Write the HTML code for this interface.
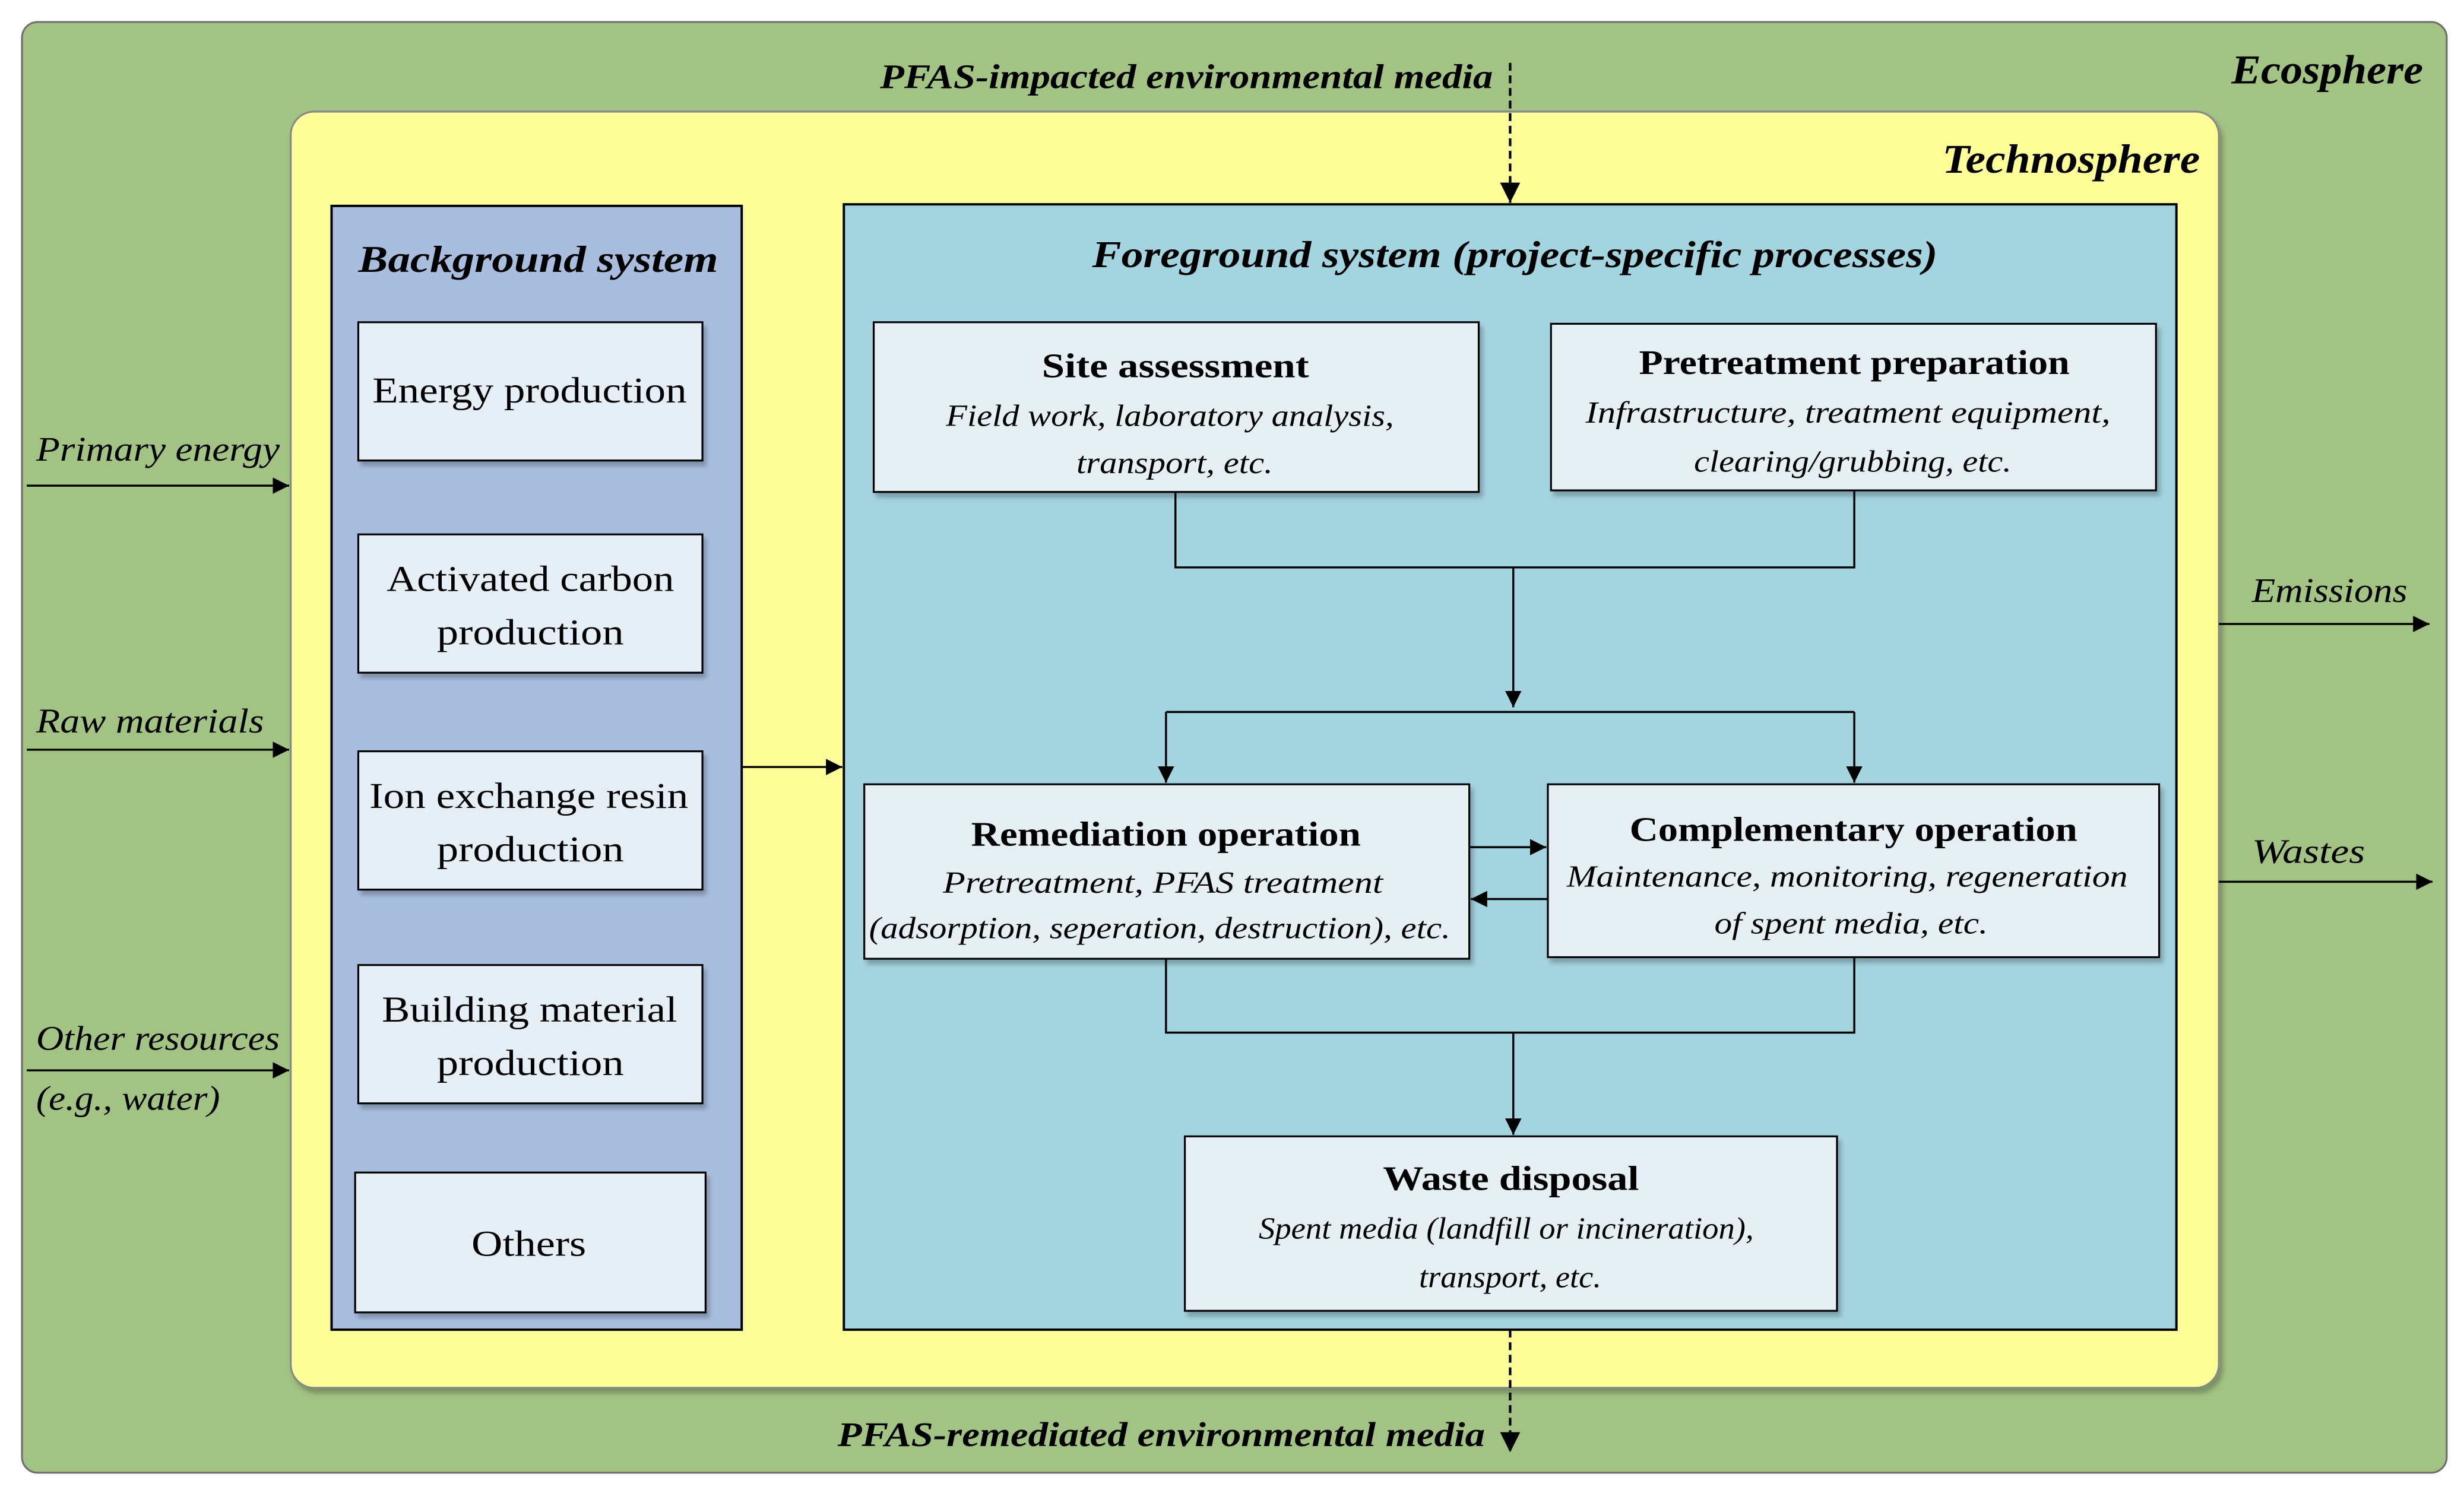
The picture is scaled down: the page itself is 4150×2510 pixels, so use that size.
<!DOCTYPE html>
<html><head><meta charset="utf-8"><style>html,body{margin:0;padding:0;background:#fff}svg{display:block}</style></head><body>
<svg width="4150" height="2510" viewBox="0 0 1568 948" preserveAspectRatio="none" xmlns="http://www.w3.org/2000/svg" font-family="'Liberation Serif', serif">
<defs>
<marker id="a" viewBox="0 0 10 10" refX="10" refY="5" markerWidth="8" markerHeight="8" orient="auto"><path d="M0,0 L10,5 L0,10 z" fill="#000"/></marker>
<filter id="s" x="-5%" y="-5%" width="115%" height="115%"><feDropShadow dx="2" dy="3" stdDeviation="1.5" flood-color="#000" flood-opacity="0.25"/></filter>
</defs>
<rect x="14" y="14" width="1543" height="923" rx="10" fill="#a2c384" stroke="#707070" stroke-width="1.2"/>
<rect x="185" y="71" width="1227" height="812" rx="15" fill="#ffff99" stroke="#888" stroke-width="1.2" filter="url(#s)"/>
<rect x="211" y="131" width="261" height="715" fill="#a9bedf" stroke="#000" stroke-width="1.5"/>
<rect x="537" y="130" width="848" height="716" fill="#a4d4df" stroke="#000" stroke-width="1.5"/>
<g fill="#e6eef6" stroke="#000" stroke-width="1.2" filter="url(#s)">
<rect x="228" y="205" width="219" height="88"/>
<rect x="228" y="340" width="219" height="88"/>
<rect x="228" y="478" width="219" height="88"/>
<rect x="228" y="614" width="219" height="88"/>
<rect x="226" y="746" width="223" height="89"/>
</g>
<g fill="#e6f0f4" stroke="#000" stroke-width="1.2" filter="url(#s)">
<rect x="556" y="205" width="385" height="108"/>
<rect x="987" y="206" width="385" height="106"/>
<rect x="550" y="499" width="385" height="111"/>
<rect x="985" y="499" width="389" height="110"/>
<rect x="754" y="723" width="415" height="111"/>
</g>
<g stroke="#000" stroke-width="1.3" fill="none">
<path d="M748,313 V361 H1180 V312"/>
<path d="M963,361 V450" marker-end="url(#a)"/>
<path d="M742,453 H1180"/>
<path d="M742,453 V498" marker-end="url(#a)"/>
<path d="M1180,453 V498" marker-end="url(#a)"/>
<path d="M935,539 H984" marker-end="url(#a)"/>
<path d="M985,572 H936" marker-end="url(#a)"/>
<path d="M742,610 V657 H1180 V609"/>
<path d="M963,657 V722" marker-end="url(#a)"/>
<path d="M961,40 V129" stroke-width="1.6" stroke-dasharray="5,3" marker-end="url(#a)"/>
<path d="M961,846 V924" stroke-width="1.6" stroke-dasharray="5,3" marker-end="url(#a)"/>
<path d="M17,309 H184" marker-end="url(#a)"/>
<path d="M17,477 H184" marker-end="url(#a)"/>
<path d="M17,681 H184" marker-end="url(#a)"/>
<path d="M1412,397 H1546" marker-end="url(#a)"/>
<path d="M1412,561 H1548" marker-end="url(#a)"/>
<path d="M472,488 H536" marker-end="url(#a)"/>
</g>
<g font-style="italic" font-weight="bold" fill="#000" lengthAdjust="spacingAndGlyphs">
<text x="1420" y="53" font-size="26" textLength="122" lengthAdjust="spacingAndGlyphs">Ecosphere</text>
<text x="1236" y="110" font-size="26" textLength="164" lengthAdjust="spacingAndGlyphs">Technosphere</text>
<text x="560" y="56" font-size="22" textLength="390" lengthAdjust="spacingAndGlyphs">PFAS-impacted environmental media</text>
<text x="533" y="920" font-size="22" textLength="412" lengthAdjust="spacingAndGlyphs">PFAS-remediated environmental media</text>
<text x="228" y="173" font-size="24" textLength="229" lengthAdjust="spacingAndGlyphs">Background system</text>
<text x="695" y="170" font-size="24" textLength="538" lengthAdjust="spacingAndGlyphs">Foreground system (project-specific processes)</text>
</g>
<g font-style="italic" font-size="22" fill="#000">
<text x="23" y="293" textLength="155" lengthAdjust="spacingAndGlyphs">Primary energy</text>
<text x="23" y="466" textLength="145" lengthAdjust="spacingAndGlyphs">Raw materials</text>
<text x="23" y="668" textLength="155" lengthAdjust="spacingAndGlyphs">Other resources</text>
<text x="23" y="706" textLength="117" lengthAdjust="spacingAndGlyphs">(e.g., water)</text>
<text x="1433" y="383" textLength="99" lengthAdjust="spacingAndGlyphs">Emissions</text>
<text x="1433" y="549" textLength="72" lengthAdjust="spacingAndGlyphs">Wastes</text>
</g>
<g font-size="23" fill="#000">
<text x="237" y="256" textLength="200" lengthAdjust="spacingAndGlyphs">Energy production</text>
<text x="246" y="376" textLength="183" lengthAdjust="spacingAndGlyphs">Activated carbon</text>
<text x="278" y="410" textLength="119" lengthAdjust="spacingAndGlyphs">production</text>
<text x="235" y="514" textLength="203" lengthAdjust="spacingAndGlyphs">Ion exchange resin</text>
<text x="278" y="548" textLength="119" lengthAdjust="spacingAndGlyphs">production</text>
<text x="243" y="650" textLength="188" lengthAdjust="spacingAndGlyphs">Building material</text>
<text x="278" y="684" textLength="119" lengthAdjust="spacingAndGlyphs">production</text>
<text x="300" y="799" textLength="73" lengthAdjust="spacingAndGlyphs">Others</text>
</g>
<g font-size="22" font-weight="bold" fill="#000">
<text x="663" y="240" textLength="170" lengthAdjust="spacingAndGlyphs">Site assessment</text>
<text x="1043" y="238" textLength="274" lengthAdjust="spacingAndGlyphs">Pretreatment preparation</text>
<text x="618" y="538" textLength="248" lengthAdjust="spacingAndGlyphs">Remediation operation</text>
<text x="1037" y="535" textLength="285" lengthAdjust="spacingAndGlyphs">Complementary operation</text>
<text x="880" y="757" textLength="163" lengthAdjust="spacingAndGlyphs">Waste disposal</text>
</g>
<g font-size="19.5" font-style="italic" fill="#000">
<text x="602" y="271" textLength="285" lengthAdjust="spacingAndGlyphs">Field work, laboratory analysis,</text>
<text x="685" y="301" textLength="125" lengthAdjust="spacingAndGlyphs">transport, etc.</text>
<text x="1009" y="269" textLength="334" lengthAdjust="spacingAndGlyphs">Infrastructure, treatment equipment,</text>
<text x="1078" y="300" textLength="202" lengthAdjust="spacingAndGlyphs">clearing/grubbing, etc.</text>
<text x="600" y="568" textLength="280" lengthAdjust="spacingAndGlyphs">Pretreatment, PFAS treatment</text>
<text x="553" y="597" textLength="370" lengthAdjust="spacingAndGlyphs">(adsorption, seperation, destruction), etc.</text>
<text x="997" y="564" textLength="357" lengthAdjust="spacingAndGlyphs">Maintenance, monitoring, regeneration</text>
<text x="1091" y="594" textLength="174" lengthAdjust="spacingAndGlyphs">of spent media, etc.</text>
<text x="801" y="788" textLength="315" lengthAdjust="spacingAndGlyphs">Spent media (landfill or incineration),</text>
<text x="903" y="819" textLength="116" lengthAdjust="spacingAndGlyphs">transport, etc.</text>
</g>
</svg>
</body></html>
